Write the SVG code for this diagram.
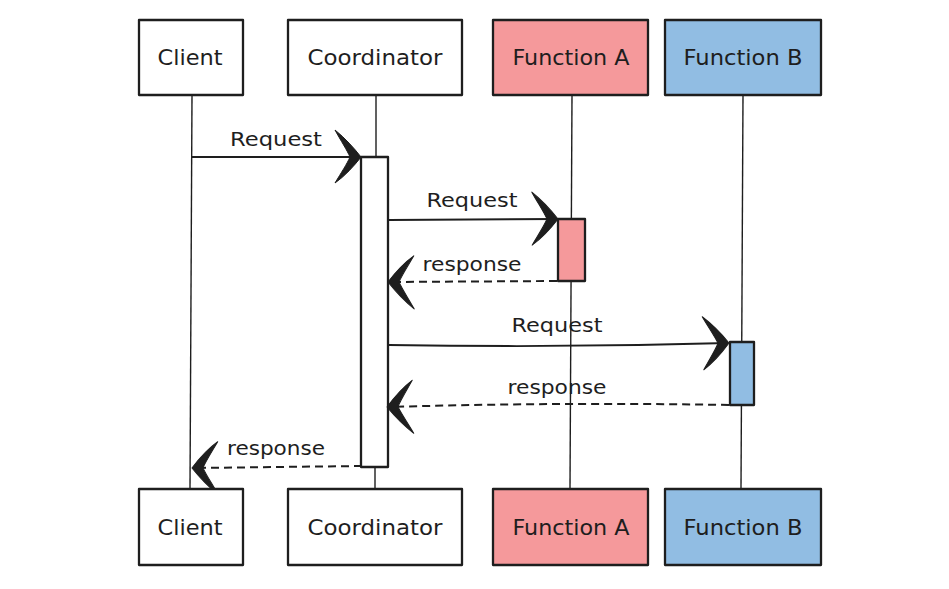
<svg xmlns="http://www.w3.org/2000/svg" width="949" height="589" viewBox="0 0 949 589">
<style>
.box{stroke:#1e1e1e;stroke-width:2.3;stroke-linejoin:round}
.plain{fill:#ffffff}
.fa{fill:#f5999b}
.fb{fill:#91bde3}
.life{stroke:#1e1e1e;stroke-width:1.4;fill:none}
.lbl{font-family:"DejaVu Sans","Liberation Sans",sans-serif;font-size:21px;fill:#1e1e1e;text-anchor:middle}
.msg{font-family:"DejaVu Sans","Liberation Sans",sans-serif;font-size:20px;fill:#1e1e1e;text-anchor:middle}
.arr{stroke:#1e1e1e;stroke-width:2;fill:none;marker-end:url(#head)}
.dash{stroke-dasharray:8 5}
</style>
<defs>
<marker id="head" viewBox="-27 -28 29 56" refX="0" refY="0" markerWidth="29" markerHeight="56" markerUnits="userSpaceOnUse" orient="auto">
<path d="M1 0 C -6 -9 -15 -19 -25 -27 C -19 -16 -13 -7 -10 0 C -13 7 -19 16 -25 26 C -15 19 -6 9 1 0 Z" fill="#1e1e1e" stroke="#1e1e1e" stroke-width="1" stroke-linejoin="round"/>
</marker>
</defs>
<rect width="949" height="589" fill="#ffffff"/>
<g id="lifelines">
<line class="life" x1="192" y1="95" x2="190" y2="489"/>
<line class="life" x1="376" y1="95" x2="376" y2="157"/>
<line class="life" x1="375" y1="467" x2="375" y2="489"/>
<line class="life" x1="572" y1="95" x2="570" y2="489"/>
<line class="life" x1="743" y1="95" x2="741" y2="489"/>
</g>
<g id="activation-coordinator"><rect class="box plain" x="361" y="157" width="27" height="310"/></g>
<g id="activation-a"><rect class="box fa" x="558" y="219" width="27" height="62"/></g>
<g id="activation-b"><rect class="box fb" x="730" y="342" width="24" height="63"/></g>
<g id="connectors">
<line class="arr" x1="192" y1="157" x2="360" y2="157"/>
<text class="msg" x="276" y="146" textLength="92" lengthAdjust="spacingAndGlyphs">Request</text>
<line class="arr" x1="389" y1="220" x2="557" y2="219"/>
<text class="msg" x="472" y="207" textLength="91" lengthAdjust="spacingAndGlyphs">Request</text>
<line class="arr dash" x1="557" y1="281" x2="389" y2="282"/>
<text class="msg" x="472" y="271" textLength="99" lengthAdjust="spacingAndGlyphs">response</text>
<path class="arr" d="M389 345 Q560 348 728 343"/>
<text class="msg" x="557" y="332" textLength="91" lengthAdjust="spacingAndGlyphs">Request</text>
<path class="arr dash" d="M729 405 Q560 402 388 407"/>
<text class="msg" x="557" y="394" textLength="99" lengthAdjust="spacingAndGlyphs">response</text>
<line class="arr dash" x1="362" y1="466" x2="193" y2="468"/>
<text class="msg" x="276" y="455" textLength="98" lengthAdjust="spacingAndGlyphs">response</text>
</g>
<g id="client-top"><rect class="box plain" x="139" y="20" width="104" height="75"/><text class="lbl" x="190" y="65" textLength="65" lengthAdjust="spacingAndGlyphs">Client</text></g>
<g id="coordinator-top"><rect class="box plain" x="288" y="20" width="174" height="75"/><text class="lbl" x="375" y="65" textLength="135" lengthAdjust="spacingAndGlyphs">Coordinator</text></g>
<g id="function-a-top"><rect class="box fa" x="493" y="20" width="155" height="75"/><text class="lbl" x="571" y="65" textLength="117" lengthAdjust="spacingAndGlyphs">Function A</text></g>
<g id="function-b-top"><rect class="box fb" x="665" y="20" width="156" height="75"/><text class="lbl" x="743" y="65" textLength="119" lengthAdjust="spacingAndGlyphs">Function B</text></g>
<g id="client-bottom"><rect class="box plain" x="139" y="489" width="104" height="76"/><text class="lbl" x="190" y="535" textLength="65" lengthAdjust="spacingAndGlyphs">Client</text></g>
<g id="coordinator-bottom"><rect class="box plain" x="288" y="489" width="174" height="76"/><text class="lbl" x="375" y="535" textLength="135" lengthAdjust="spacingAndGlyphs">Coordinator</text></g>
<g id="function-a-bottom"><rect class="box fa" x="493" y="489" width="155" height="76"/><text class="lbl" x="571" y="535" textLength="117" lengthAdjust="spacingAndGlyphs">Function A</text></g>
<g id="function-b-bottom"><rect class="box fb" x="665" y="489" width="156" height="76"/><text class="lbl" x="743" y="535" textLength="119" lengthAdjust="spacingAndGlyphs">Function B</text></g>
</svg>
